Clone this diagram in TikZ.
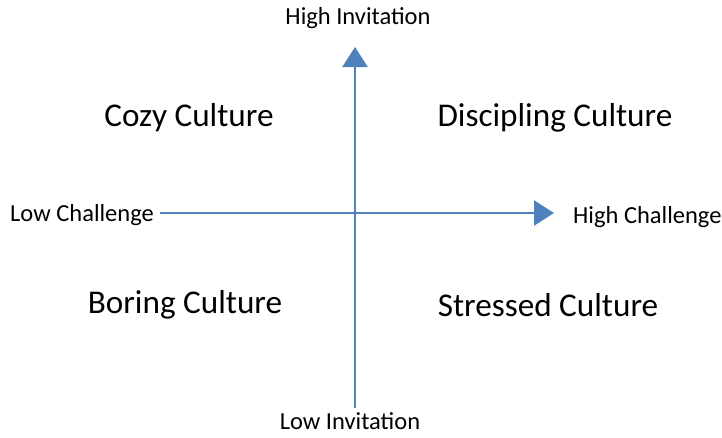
\documentclass[tikz,border=0pt]{standalone}
\usepackage{fontspec}
\setmainfont{Carlito}
\usetikzlibrary{arrows.meta}
\definecolor{axisblue}{HTML}{4F81BD}

\begin{document}
\begin{tikzpicture}[
    x=1pt, y=-1pt,
    axislabel/.style={inner sep=0pt, font=\fontsize{24.5}{28}\selectfont},
    quadrant/.style={inner sep=0pt, font=\fontsize{33.2}{38}\selectfont},
    axis/.style={draw=axisblue, line width=2.6pt, -{Triangle[length=20pt, width=25pt]}}
]
\useasboundingbox (0,0) rectangle (722,437);

% Axis ends
\node[axislabel] (hiinv) at (358,18) {High Invitation};
\node[axislabel] (loinv) at (350,421) {Low Invitation};
\node[axislabel, anchor=west] (lochal) at (10,215) {Low Challenge};
\node[axislabel, anchor=west] (hichal) at (573,217) {High Challenge};
\coordinate (vbot) at (355,408);
\coordinate (vtop) at (355,47);
\coordinate (hleft) at (160,213);
\coordinate (hright) at (554,213);

% Quadrants
\node[quadrant] (cozy) at (189,118) {Cozy Culture};
\node[quadrant] (discipling) at (555,118) {Discipling Culture};
\node[quadrant] (boring) at (185,305) {Boring Culture};
\node[quadrant] (stressed) at (548,305) {Stressed Culture};

% Axes
\draw[axis] (vbot) -- (vtop);
\draw[axis] (hleft) -- (hright);

\end{tikzpicture}
\end{document}
